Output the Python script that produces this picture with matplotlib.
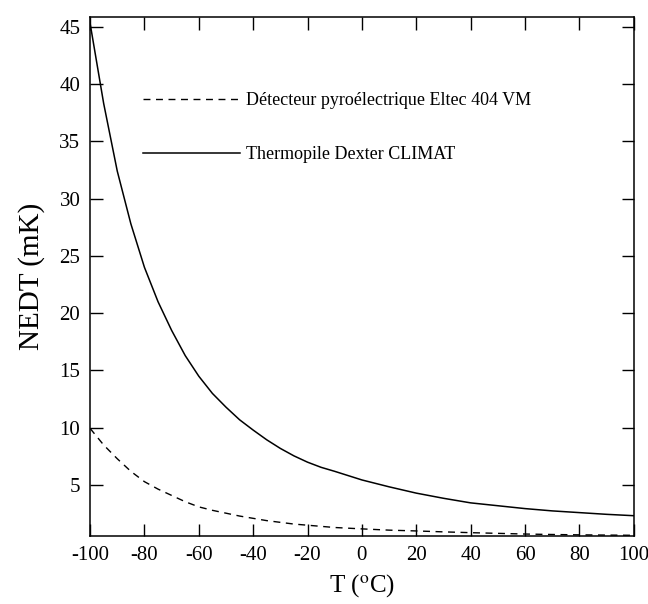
import matplotlib
matplotlib.use("Agg")
import matplotlib.pyplot as plt

plt.rcParams['font.family'] = ['Liberation Serif', 'DejaVu Serif']
plt.rcParams['mathtext.fontset'] = 'stix'

# temperatures (degC)
T = [-100, -95, -90, -85, -80, -75, -70, -65, -60, -55, -50, -45, -40, -35,
     -30, -25, -20, -15, -10, 0, 10, 20, 30, 40, 50, 60, 70, 80, 90, 100]
# NEDT (mK)
nedt_pyro = [9.95, 8.5, 7.3, 6.2, 5.3, 4.65, 4.1, 3.55, 3.1, 2.8, 2.55, 2.3,
             2.1, 1.9, 1.75, 1.6, 1.5, 1.4, 1.3, 1.18, 1.07, 1.0, 0.92, 0.85,
             0.79, 0.73, 0.69, 0.66, 0.64, 0.62]
nedt_thermo = [45.3, 38.3, 32.4, 27.8, 24.0, 21.0, 18.5, 16.3, 14.5, 13.0,
               11.8, 10.7, 9.8, 8.95, 8.2, 7.55, 7.0, 6.55, 6.2, 5.45, 4.85,
               4.3, 3.85, 3.45, 3.2, 2.95, 2.75, 2.6, 2.45, 2.33]

labels = ['Détecteur pyroélectrique Eltec 404 VM', 'Thermopile Dexter CLIMAT']
xticks = [-100, -80, -60, -40, -20, 0, 20, 40, 60, 80, 100]
yticks = [5, 10, 15, 20, 25, 30, 35, 40, 45]

fig = plt.figure(figsize=(6.48, 6.04), dpi=100)
ax = fig.add_axes([0.139, 0.1126, 0.839, 0.8594])

ax.plot(T, nedt_pyro, color='black', lw=1.0, ls=(0, (5, 4)), label=labels[0])
ax.plot(T, nedt_thermo, color='black', lw=1.1, label=labels[1])

ax.set_xlim(-100, 100)
ax.set_ylim(0.56, 45.85)
ax.set_xticks(xticks)
ax.set_yticks(yticks)
ax.set_xticklabels([str(v) for v in xticks])
ax.tick_params(direction='in', length=9, width=1, labelsize=15,
               top=True, right=True, pad=7)
for s in ax.spines.values():
    s.set_linewidth(1.1)

ax.set_xlabel(r'T ($^{\mathrm{o}}$C)', fontsize=18, labelpad=5)
ax.set_ylabel('NEDT (mK)', fontsize=21, labelpad=10)

ax.legend(loc='upper left', bbox_to_anchor=(0.097, 0.855), frameon=False,
          fontsize=13, handlelength=5.4, labelspacing=2.05,
          borderaxespad=0, borderpad=0, handletextpad=0.3)

fig.savefig('out.png', dpi=100)
